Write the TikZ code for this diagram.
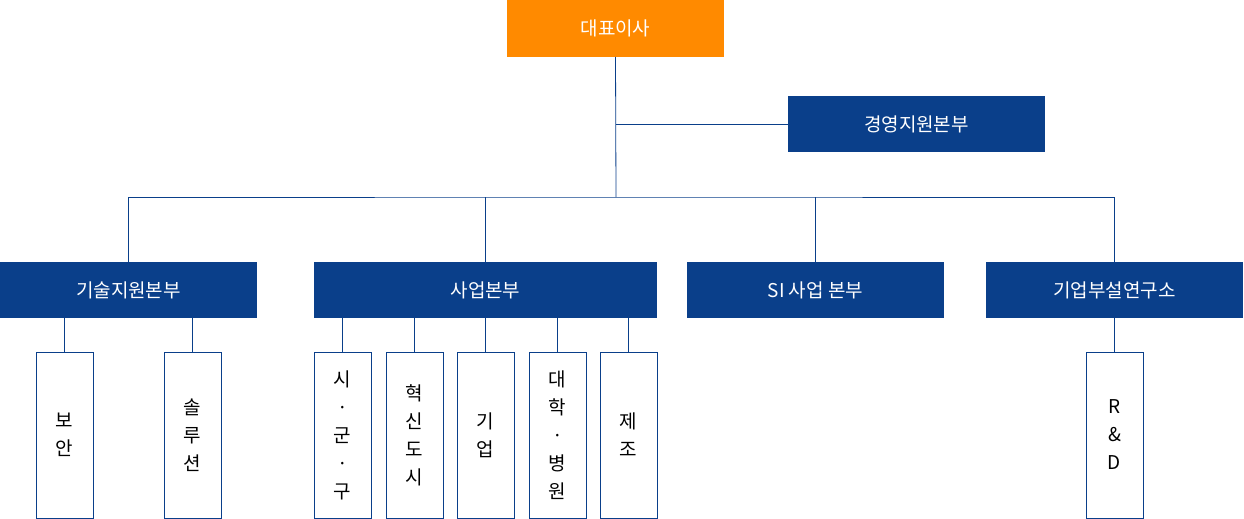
\documentclass[tikz,border=0pt]{standalone}
\usepackage{fontspec}
\setmainfont{Noto Sans CJK KR}
\usepackage{tikz}

\definecolor{navy}{HTML}{0A3F8A}
\definecolor{ceo}{HTML}{FF8A00}

\tikzset{
  head/.style={anchor=north west, inner sep=0pt, outer sep=0pt, fill=navy, text=white,
    font=\fontsize{19}{22}\selectfont},
  leaf/.style={anchor=north west, draw=navy, line width=0.8pt, inner sep=0pt, outer sep=0pt,
    minimum width=57pt, minimum height=166pt, align=center, font=\fontsize{19}{28}\selectfont},
  link/.style={draw=navy, line width=0.8pt}
}

\begin{document}
\begin{tikzpicture}[x=1pt,y=-1pt]
            \useasboundingbox (0,0) rectangle (1244,519);

            \node[head, fill=ceo, minimum width=217pt, minimum height=57pt] (ceo) at (507,0) {대표이사};
            \node[head, minimum width=257pt, minimum height=56pt] (mgmt) at (788,96) {경영지원본부};

            \node[head, minimum width=257pt, minimum height=56pt] (tech) at (0,262) {기술지원본부};
            \node[head, minimum width=343pt, minimum height=56pt] (biz) at (314,262) {사업본부};
            \node[head, minimum width=257pt, minimum height=56pt] (si) at (687,262) {SI 사업 본부};
            \node[head, minimum width=257pt, minimum height=56pt] (lab) at (986,262) {기업부설연구소};

            \node[leaf] (sec) at (36,352) {보\\안};
            \node[leaf] (sol) at (164,352) {솔\\루\\션};
            \node[leaf] (city) at (314,352) {시\\·\\군\\·\\구};
            \node[leaf] (inno) at (386,352) {혁\\신\\도\\시};
            \node[leaf] (corp) at (457,352) {기\\업};
            \node[leaf] (univ) at (529,352) {대\\학\\·\\병\\원};
            \node[leaf] (manu) at (600,352) {제\\조};
            \node[leaf] (rnd) at (1086,352) {R\\\&\\D};

            \coordinate (hub) at (616,197);
            \coordinate (mid) at (616,124);
            \draw[link] (ceo.south) -- (hub);
            \draw[link] (mid) -- (mgmt.west);
            \draw[link] (tech.north) |- (hub) -| (lab.north);
            \draw[link] (biz.north) -- (biz.north |- hub);
            \draw[link] (si.north) -- (si.north |- hub);

            \draw[link] (sec.north) -- (sec.north |- tech.south);
            \draw[link] (sol.north) -- (sol.north |- tech.south);
            \draw[link] (city.north) -- (city.north |- biz.south);
            \draw[link] (inno.north) -- (inno.north |- biz.south);
            \draw[link] (corp.north) -- (corp.north |- biz.south);
            \draw[link] (univ.north) -- (univ.north |- biz.south);
            \draw[link] (manu.north) -- (manu.north |- biz.south);
            \draw[link] (rnd.north) -- (lab.south);
        \end{tikzpicture}
\end{document}
